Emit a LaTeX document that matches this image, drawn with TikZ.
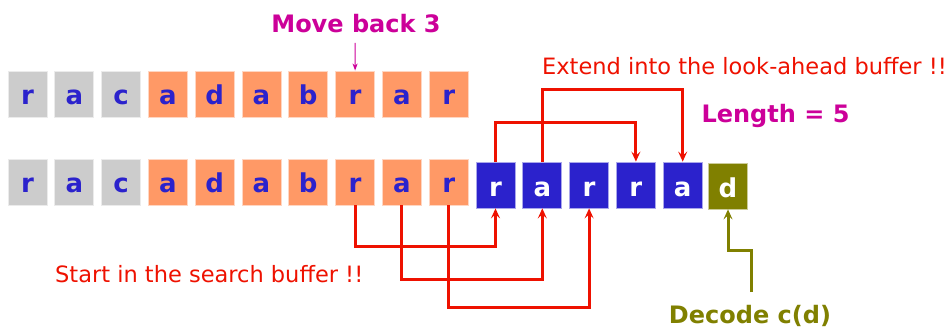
\documentclass[tikz,border=0pt]{standalone}
\usepackage{fontspec}
\setmainfont{DejaVu Sans}
\usetikzlibrary{arrows.meta,calc}
\definecolor{cgray}{HTML}{CCCCCC}
\definecolor{corange}{HTML}{FF9966}
\definecolor{cblue}{HTML}{2B22CC}
\definecolor{colive}{HTML}{808000}
\definecolor{cred}{HTML}{EE1100}
\definecolor{cmag}{HTML}{CC0099}
\definecolor{cletter}{HTML}{2B22CC}
\begin{document}
\begin{tikzpicture}[x=1pt,y=-1pt,
  cell/.style={minimum width=39pt,minimum height=46pt,inner sep=0pt,
    text height=22pt,text depth=0pt,line width=0.8pt,
    font=\fontsize{26}{30}\selectfont\bfseries},
  graycell/.style={cell,fill=cgray,draw=cgray!40!white,text=cletter},
  orangecell/.style={cell,fill=corange,draw=corange!40!white,text=cletter},
  bluecell/.style={cell,fill=cblue,draw=cblue!40!white,text=white},
  olivecell/.style={cell,fill=colive,draw=colive!40!white,text=white},
  redarrow/.style={cred,line width=3pt,-{Stealth[length=10pt,width=9pt,inset=4pt]}},
  olivearrow/.style={colive,line width=3pt,-{Stealth[length=10pt,width=9pt,inset=4pt]}},
  magarrow/.style={cmag,line width=1.1pt,-{Stealth[length=7pt,width=5pt,inset=2pt]}},
  boldlabel/.style={inner sep=0pt,anchor=base,font=\fontsize{24}{28}\selectfont\bfseries},
  comiclabel/.style={inner sep=0pt,anchor=base west,text=cred,font=\fontsize{22.5}{26}\selectfont}
]
\useasboundingbox (0,0) rectangle (949,331);
% top row
\foreach \ch/\i in {r/0,a/1,c/2}
  \node[graycell] (t\i) at ({27.5+46.8*\i},94) {\ch};
\foreach \ch/\i in {a/3,d/4,a/5,b/6,r/7,a/8,r/9}
  \node[orangecell] (t\i) at ({27.5+46.8*\i},94) {\ch};
% bottom row
\foreach \ch/\i in {r/0,a/1,c/2}
  \node[graycell] (b\i) at ({27.5+46.8*\i},182) {\ch};
\foreach \ch/\i in {a/3,d/4,a/5,b/6,r/7,a/8,r/9}
  \node[orangecell] (b\i) at ({27.5+46.8*\i},182) {\ch};
\foreach \ch/\i in {r/10,a/11,r/12,r/13,a/14}
  \node[bluecell] (b\i) at ({27.5+46.8*\i},185) {\ch};
\node[olivecell] (b15) at (728,186) {d};
% labels
\node[boldlabel,text=cmag] (mb) at (356,33) {Move back 3};
\node[boldlabel,text=cmag] (len) at (775.5,123) {Length = 5};
\node[boldlabel,text=colive] (dec) at (750,323) {Decode c(d)};
\node[comiclabel] (ext) at (542,75) {Extend into the look-ahead buffer !!};
\node[comiclabel] (start) at (55,282) {Start in the search buffer !!};
% magenta arrow
\coordinate (mvtail) at (355.1,43);
\draw[magarrow] (mvtail) -- (t7.north);
% upper red connectors
\draw[redarrow] (b10.north) -- ++(0,-39) -| (b13.north);
\draw[redarrow] (b11.north) -- ++(0,-72) -| (b14.north);
% lower red connectors
\draw[redarrow] (b7.south) -- ++(0,41) -| (b10.south);
\draw[redarrow] (b8.south) -- ++(0,74) -| (b11.south);
\draw[redarrow] (b9.south) -- ++(0,102) -| (b12.south);
% olive connector
\coordinate (dtail) at (751,292);
\draw[olivearrow] (dtail) -- ++(0,-42) -| (b15.south);
\end{tikzpicture}
\end{document}
